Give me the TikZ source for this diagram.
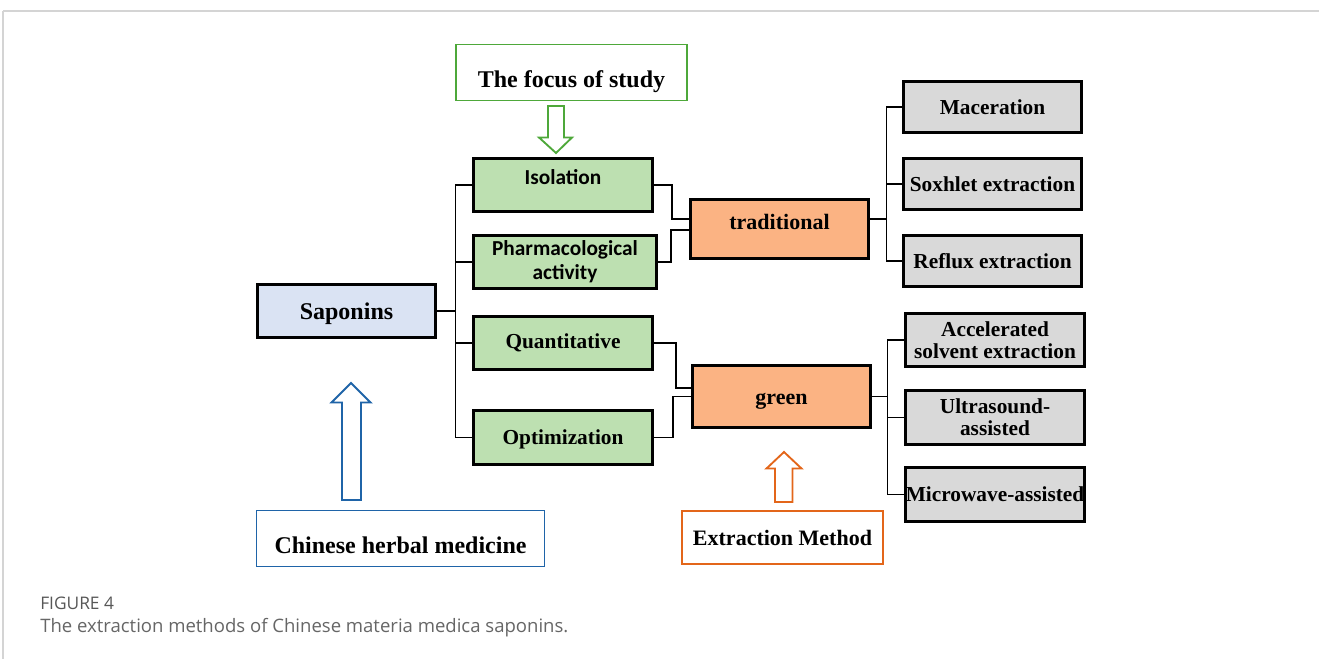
\documentclass[tikz,border=0pt]{standalone}
\usepackage{fontspec}
\setmainfont{Liberation Serif}
\newfontfamily\calfont{Carlito}
\newfontfamily\capfont{Open Sans}
\usetikzlibrary{positioning}
\definecolor{boxgreen}{HTML}{BDE0B1}
\definecolor{boxorange}{HTML}{FBB383}
\definecolor{boxgray}{HTML}{D9D9D9}
\definecolor{boxblue}{HTML}{DAE3F3}
\definecolor{focusgreen}{HTML}{4EA83A}
\definecolor{herbblue}{HTML}{1F64A8}
\definecolor{methodorange}{HTML}{E3661A}
\definecolor{framegray}{HTML}{D4D4D4}
\definecolor{capgray}{HTML}{666666}
\tikzset{
  blockbox/.style={draw=black, line width=2.2pt, minimum width=134pt, minimum height=40pt, inner sep=2pt, align=center, font=\bfseries\fontsize{16}{16.5}\selectfont},
  titlebox/.style={draw, line width=1.2pt, fill=white, inner sep=2pt, font=\bfseries\fontsize{18}{20}\selectfont},
  link/.style={line width=1.2pt, black},
  hollow/.style={line width=1.4pt, fill=white, line join=miter}
}

\begin{document}
\begin{tikzpicture}[x=0.75pt, y=-0.75pt]
        \useasboundingbox (0,0) rectangle (1319,659);
        % page frame
        \draw[framegray, line width=1.5pt] (3,11) -- (1319,11);
        \draw[framegray, line width=0.8pt] (3,11) -- (3,659);

        % left column
        \node[blockbox, fill=boxblue, font=\bfseries\fontsize{18}{20}\selectfont, text depth=0pt] (sapon) at (346.5,311) {Saponins};

        % study topics
        \node[blockbox, fill=boxgreen, font=\calfont\bfseries\fontsize{16}{18}\selectfont, text height=4pt, text depth=4pt] (isol) at (563,185) {Isolation};
        \node[blockbox, fill=boxgreen, minimum width=137pt, font=\calfont\bfseries\fontsize{16}{18}\selectfont] (pharm) at (565,262) {Pharmacological\\activity};
        \node[blockbox, fill=boxgreen] (quant) at (563,343) {Quantitative};
        \node[blockbox, fill=boxgreen, text depth=0pt] (optim) at (563,437.5) {Optimization};

        % method groups
        \node[blockbox, fill=boxorange, minimum height=44pt, font=\bfseries\fontsize{16.5}{18}\selectfont, text height=5pt, text depth=5pt] (trad) at (779.5,229) {traditional};
        \node[blockbox, fill=boxorange, minimum height=46pt, font=\bfseries\fontsize{16.5}{18}\selectfont, text height=12pt, text depth=0pt] (green) at (781.5,396.5) {green};

        % extraction techniques
        \node[blockbox, fill=boxgray, minimum height=38.5pt] (macer) at (992.5,107) {Maceration};
        \node[blockbox, fill=boxgray, minimum height=38.5pt] (soxh) at (992.5,184) {Soxhlet extraction};
        \node[blockbox, fill=boxgray, minimum height=38.5pt] (reflux) at (992.5,261) {Reflux extraction};
        \node[blockbox, fill=boxgray] (accel) at (995,340) {Accelerated\\solvent extraction};
        \node[blockbox, fill=boxgray] (ultra) at (995,417.5) {Ultrasound-\\assisted};
        \node[blockbox, fill=boxgray, inner sep=0pt] (micro) at (995,494.5) {Microwave-assisted};

        % outlined titles
        \node[titlebox, draw=focusgreen, minimum width=173pt, minimum height=42pt, text height=23pt, text depth=0pt] (focus) at (571.5,72.5) {The focus of study};
        \node[titlebox, draw=herbblue, minimum width=216pt, minimum height=42pt, text height=22.4pt, text depth=0pt] (herb) at (400.5,538.5) {Chinese herbal medicine};
        \node[titlebox, draw=methodorange, line width=1.6pt, minimum width=151pt, minimum height=40pt, font=\bfseries\fontsize{16.5}{18}\selectfont] (method) at (782.5,537.5) {Extraction Method};

        % tree connectors
        \draw[link, line width=2pt] (sapon.east) -- ++(18,0) coordinate (sapfork);
        \foreach \n in {isol,pharm,quant,optim}
          \draw[link] (sapfork) |- (\n.west);
        \draw[link] (isol.east) -- ++(18,0) |- ([yshift=7.3pt]trad.west);
        \draw[link] (pharm.east) -- ++(13,0) |- ([yshift=-0.75pt]trad.west);
        \draw[link] (quant.east) -- ++(22,0) |- ([yshift=6.4pt]green.west);
        \draw[link] (optim.east) -- ++(19,0) |- (green.west);
        \draw[link] ([yshift=7.3pt]trad.east) -- ++(16,0) coordinate (tradfork);
        \foreach \n in {macer,soxh,reflux}
          \draw[link] (tradfork) |- (\n.west);
        \draw[link] (green.east) -- ++(15,0) coordinate (greenfork);
        \foreach \n in {accel,ultra,micro}
          \draw[link] (greenfork) |- (\n.west);

        % hollow block arrows
        \draw[hollow, draw=focusgreen] (548,106) -- (564,106) -- (564,137.5) -- (572,137.5) -- (556,153) -- (539,137.5) -- (548,137.5) -- cycle;
        \draw[hollow, draw=herbblue] (342,500) -- (361,500) -- (361,402.5) -- (370.5,402.5) -- (351,383) -- (331.5,402.5) -- (342,402.5) -- cycle;
        \draw[hollow, draw=methodorange] (775,502) -- (792.5,502) -- (792.5,468.5) -- (801.5,468.5) -- (784,452) -- (766.5,468.5) -- (775,468.5) -- cycle;

        % caption
        \node[anchor=west, inner sep=0pt, text=capgray!85!black, font=\capfont\fontsize{13}{15}\selectfont] (figlabel) at (40,603) {FIGURE 4};
        \node[anchor=west, inner sep=0pt, text=capgray, font=\capfont\fontsize{13.9}{16}\selectfont] (figcaption) at (40,628) {The extraction methods of Chinese materia medica saponins.};
\end{tikzpicture}
\end{document}
